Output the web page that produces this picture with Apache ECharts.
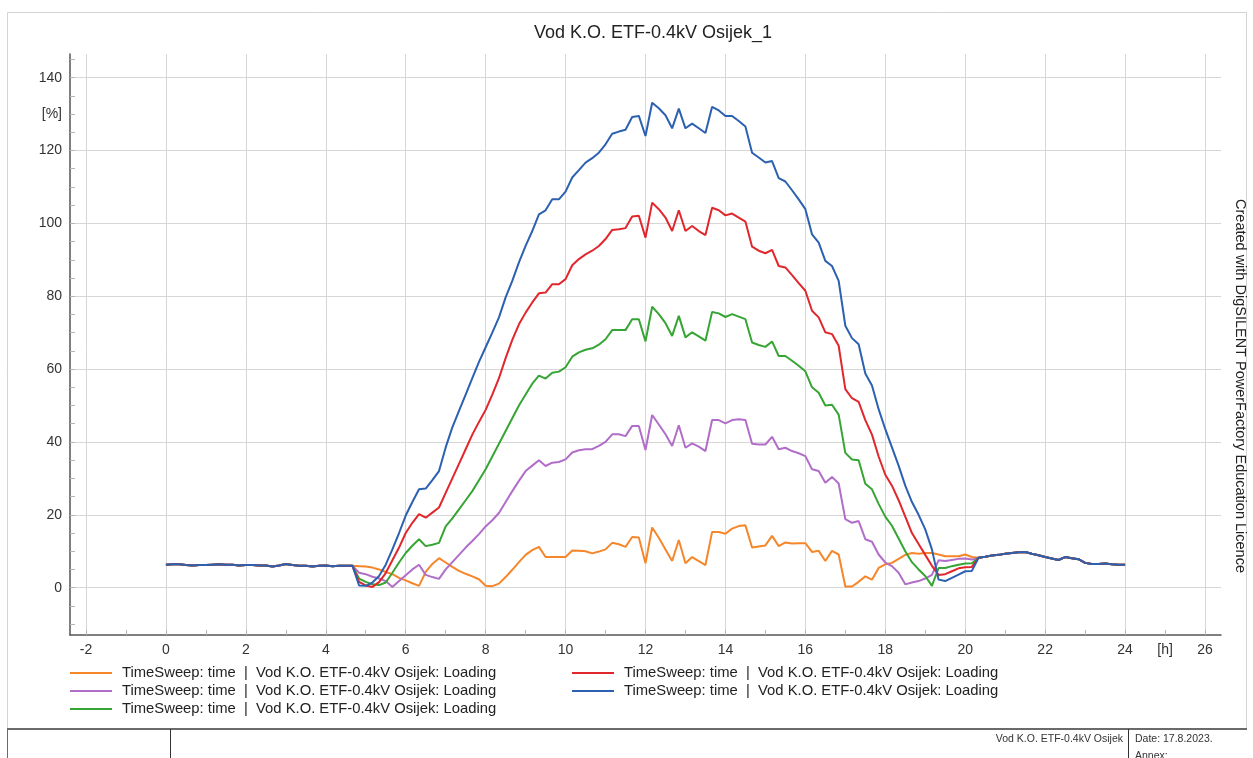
<!DOCTYPE html>
<html>
<head>
<meta charset="utf-8">
<title>Vod K.O. ETF-0.4kV Osijek_1</title>
<script src="https://cdn.jsdelivr.net/npm/echarts@6/dist/echarts.min.js"></script>
<style>
  html, body { margin: 0; padding: 0; background: #ffffff; }
  #chart { width: 1253px; height: 758px; }
</style>
</head>
<body>
<div id="chart"></div>
<script>
// Time sweep resolution: one sample every 10 minutes, 0 h .. 24 h
const SAMPLES_PER_HOUR = 6;

// Shared night-time loading [%] (all cases identical), 0:00 .. 4:40
const nightMorning = [
  6.3, 6.4, 6.4, 6.2, 6.1, 6.2,
  6.2, 6.3, 6.4, 6.3, 6.3, 6.1,
  6.2, 6.2, 6.1, 6.1, 5.8, 6.1,
  6.5, 6.2, 6.0, 6.0, 5.8, 6.0,
  6.1, 5.9, 6.0, 6.0, 6.0
];

// Shared evening loading [%], 20:20 .. 24:00
const nightEvening = [
  8.2, 8.5, 8.8,
  9.0, 9.3, 9.5, 9.7, 9.8, 9.3,
  8.9, 8.4, 8.0, 7.6, 8.4, 8.1,
  7.8, 6.8, 6.5, 6.5, 6.6, 6.4,
  6.3, 6.3
];

// Daytime loading [%] per case, 4:50 .. 20:10 (rows = whole hours)
const dayOrange = [
  5.9,
  5.8, 5.5, 5.0, 4.3, 3.7, 2.7,
  2.0, 1.2, 0.5, 4.3, 6.5, 8.1,
  6.9, 5.7, 4.6, 3.8, 3.1, 2.3,
  0.5, 0.4, 1.1, 2.9, 4.9, 7.0,
  9.0, 10.3, 11.2, 8.4, 8.4, 8.4,
  8.4, 10.2, 10.1, 10.0, 9.4, 9.9,
  10.5, 12.3, 11.9, 11.2, 13.9, 13.8,
  6.7, 16.5, 13.7, 10.5, 7.3, 13.1,
  6.7, 8.4, 7.3, 6.2, 15.3, 15.3,
  14.8, 16.2, 16.9, 17.1, 11.0, 11.3,
  11.6, 14.2, 11.4, 12.4, 12.1, 12.2,
  12.2, 9.8, 10.1, 7.3, 10.1, 9.1,
  0.3, 0.3, 1.6, 3.1, 2.2, 5.4,
  6.4, 6.8, 7.9, 9.0, 9.5, 9.3,
  9.5, 9.5, 9.1, 8.6, 8.6, 8.6,
  9.1, 8.4
];

const dayPurple = [
  4.1,
  3.7, 3.0, 2.5, 1.8, 0.2, 1.8,
  3.4, 5.0, 6.3, 3.5, 2.9, 2.4,
  5.0, 7.0, 9.0, 11.0, 12.8, 14.7,
  16.8, 18.5, 20.5, 23.5, 26.5, 29.3,
  32.0, 33.5, 35.0, 33.4, 34.3, 34.5,
  35.2, 37.1, 37.7, 38.0, 38.0, 38.9,
  40.0, 42.1, 42.1, 41.6, 44.4, 44.4,
  37.8, 47.4, 44.8, 42.1, 38.9, 44.6,
  38.4, 39.6, 38.7, 37.5, 46.0, 46.0,
  45.1, 46.0, 46.2, 46.0, 39.5, 39.3,
  39.3, 41.4, 38.0, 38.4, 37.5, 36.9,
  36.1, 32.5, 32.0, 28.8, 30.4, 28.6,
  18.8, 17.8, 18.3, 13.3, 12.6, 9.1,
  6.9, 5.9, 4.1, 0.9, 1.4, 1.8,
  2.5, 3.5, 7.5, 7.3, 7.6, 7.9,
  8.0, 7.7
];

const dayGreen = [
  2.5,
  1.6, 0.9, 0.7, 1.4, 4.1, 6.9,
  9.5, 11.5, 13.3, 11.4, 11.8, 12.3,
  16.8, 19.0, 21.5, 24.0, 26.5, 29.5,
  32.5, 36.0, 39.5, 43.0, 46.5, 50.0,
  53.0, 56.0, 58.2, 57.4, 59.0, 59.3,
  60.5, 63.4, 64.6, 65.3, 65.7, 66.7,
  68.2, 70.7, 70.7, 70.7, 73.7, 73.7,
  67.6, 77.1, 75.1, 72.6, 69.1, 74.6,
  68.7, 70.1, 69.0, 67.8, 75.7, 75.3,
  74.3, 75.1, 74.4, 73.7, 67.3, 66.6,
  66.1, 67.6, 63.6, 63.6, 62.3, 60.9,
  59.4, 55.0, 53.5, 50.0, 50.2, 47.5,
  37.0, 35.2, 35.0, 28.5, 27.0, 23.0,
  19.5, 17.0, 13.5, 10.0, 7.0, 5.0,
  3.2, 0.5, 5.4, 5.4, 5.9, 6.3,
  6.6, 6.7
];

const dayRed = [
  1.6,
  0.6, 0.2, 1.5, 4.0, 7.5, 11.0,
  15.0, 17.8, 20.2, 19.2, 20.6, 22.0,
  26.0, 30.0, 34.0, 38.0, 42.0, 45.5,
  48.8, 53.0, 57.5, 63.0, 68.0, 72.3,
  75.5, 78.3, 80.8, 81.0, 83.3, 83.3,
  84.7, 88.5, 90.2, 91.5, 92.5, 93.8,
  95.7, 98.2, 98.4, 98.7, 101.9, 102.1,
  96.1, 105.7, 103.9, 101.6, 97.9, 103.6,
  97.9, 99.3, 97.9, 96.8, 104.3, 103.6,
  102.2, 102.7, 101.6, 100.5, 93.6, 92.5,
  91.8, 92.7, 88.3, 87.9, 85.8, 83.6,
  81.5, 76.0, 74.2, 70.1, 69.6, 66.4,
  54.5, 52.0, 51.0, 46.0, 42.0, 36.0,
  31.0, 28.0, 24.0, 19.5, 15.0, 12.0,
  9.0, 6.0, 3.5, 3.7, 4.5, 5.3,
  5.6, 5.7
];

const dayBlue = [
  0.6,
  0.5, 1.4, 3.2, 6.3, 10.5, 15.0,
  19.8, 23.5, 27.0, 27.2, 29.5, 32.0,
  38.5, 44.0, 48.5, 53.0, 57.5, 62.0,
  66.0, 70.0, 74.2, 79.7, 84.2, 89.3,
  93.8, 97.9, 102.5, 103.6, 106.6, 106.6,
  108.7, 112.6, 114.6, 116.7, 117.9, 119.4,
  121.7, 124.6, 125.2, 125.7, 129.2, 129.5,
  124.0, 133.1, 131.6, 129.7, 126.1, 131.5,
  126.1, 127.4, 126.1, 124.8, 132.0, 131.0,
  129.5, 129.5, 128.1, 126.6, 119.4, 118.1,
  116.7, 117.1, 112.4, 111.5, 109.1, 106.6,
  103.9, 97.0, 94.7, 89.7, 88.3, 84.2,
  71.9, 68.5, 66.8, 58.8, 55.5, 49.0,
  43.5, 38.5, 33.5, 28.0, 23.5, 20.0,
  16.0, 10.5, 2.2, 1.8, 2.7, 3.6,
  4.5, 4.6
];

// Axis ticks and labels
const xTickValues = [-2, -1, 0, 1, 2, 3, 4, 5, 6, 7, 8, 9, 10, 11, 12, 13, 14, 15, 16, 17, 18, 19, 20, 21, 22, 23, 24, 25, 26];
const xLabelValues = [-2, 0, 2, 4, 6, 8, 10, 12, 14, 16, 18, 20, 22, 24, 25, 26];
const xGridValues = [-2, 0, 2, 4, 6, 8, 10, 12, 14, 16, 18, 20, 22, 24, 26];
const yTickValues = [-10, -5, 0, 5, 10, 15, 20, 25, 30, 35, 40, 45, 50, 55, 60, 65, 70, 75, 80, 85, 90, 95, 100, 105, 110, 115, 120, 125, 130, 135, 140, 145];
const yLabelValues = [0, 20, 40, 60, 80, 100, 120, 130, 140];
const yGridValues = [0, 20, 40, 60, 80, 100, 120, 140];
const xUnitAt = 25;
const yUnitAt = 130;

const legendText = 'TimeSweep: time  |  Vod K.O. ETF-0.4kV Osijek: Loading';
const chartTitle = 'Vod K.O. ETF-0.4kV Osijek_1';
const licenceText = 'Created with DigSILENT PowerFactory Education Licence';
const footerObject = 'Vod K.O. ETF-0.4kV Osijek';
const footerDate = 'Date: 17.8.2023.';
const footerAnnex = 'Annex:';

const cases = [
  { day: dayOrange, color: '#f5862a' },
  { day: dayPurple, color: '#b16ec9' },
  { day: dayGreen,  color: '#36a534' },
  { day: dayRed,    color: '#e1262c' },
  { day: dayBlue,   color: '#2c60b0' }
];

function buildSeriesData(day) {
  const values = nightMorning.concat(day, nightEvening);
  return values.map((v, i) => [i / SAMPLES_PER_HOUR, v]);
}

const FONT = '"Liberation Sans", Arial, sans-serif';
const chart = echarts.init(document.getElementById('chart'), null, { renderer: 'canvas' });

const legendRows = [
  { x: 70, y: 673, color: cases[0].color },
  { x: 70, y: 691, color: cases[1].color },
  { x: 70, y: 709, color: cases[2].color },
  { x: 572, y: 673, color: cases[3].color },
  { x: 572, y: 691, color: cases[4].color }
];

const graphics = [
  // outer frame
  { type: 'rect', silent: true, z: -10,
    shape: { x: 7.5, y: 12.5, width: 1239, height: 716 },
    style: { fill: null, stroke: '#d3d3d3', lineWidth: 1 } },
  // title
  { type: 'text', silent: true,
    style: { text: chartTitle, x: 653, y: 33, textAlign: 'center', textVerticalAlign: 'middle',
             font: '18px ' + FONT, fill: '#222' } },
  // licence note on the right
  { type: 'text', silent: true, x: 1240, y: 386, rotation: -Math.PI / 2,
    style: { text: licenceText, x: 0, y: 0, textAlign: 'center', textVerticalAlign: 'middle',
             font: '14.5px ' + FONT, fill: '#222' } },
  // footer table
  { type: 'line', silent: true, shape: { x1: 7, y1: 729, x2: 1247, y2: 729 },
    style: { stroke: '#6a6a6a', lineWidth: 2 } },
  { type: 'line', silent: true, shape: { x1: 7.5, y1: 729, x2: 7.5, y2: 758 },
    style: { stroke: '#6a6a6a', lineWidth: 1 } },
  { type: 'line', silent: true, shape: { x1: 170.5, y1: 729, x2: 170.5, y2: 758 },
    style: { stroke: '#333', lineWidth: 1 } },
  { type: 'line', silent: true, shape: { x1: 1128.5, y1: 729, x2: 1128.5, y2: 758 },
    style: { stroke: '#333', lineWidth: 1 } },
  { type: 'text', silent: true,
    style: { text: footerObject, x: 1123, y: 739, textAlign: 'right', textVerticalAlign: 'middle',
             font: '10.5px ' + FONT, fill: '#333' } },
  { type: 'text', silent: true,
    style: { text: footerDate, x: 1135, y: 739, textAlign: 'left', textVerticalAlign: 'middle',
             font: '10.5px ' + FONT, fill: '#333' } },
  { type: 'text', silent: true,
    style: { text: footerAnnex, x: 1135, y: 756, textAlign: 'left', textVerticalAlign: 'middle',
             font: '10.5px ' + FONT, fill: '#333' } }
];

legendRows.forEach(r => {
  graphics.push({ type: 'line', silent: true,
    shape: { x1: r.x, y1: r.y, x2: r.x + 42, y2: r.y },
    style: { stroke: r.color, lineWidth: 2 } });
  graphics.push({ type: 'text', silent: true,
    style: { text: legendText, x: r.x + 52, y: r.y, textAlign: 'left', textVerticalAlign: 'middle',
             font: '14.8px ' + FONT, fill: '#222' } });
});

const option = {
  animation: false,
  backgroundColor: '#ffffff',
  grid: { left: 70, right: 32, top: 54, bottom: 123, containLabel: false },
  xAxis: [
    {
      type: 'value', min: -2.4, max: 26.4, position: 'bottom',
      axisLine: { show: true, onZero: false, lineStyle: { color: '#555', width: 1.5 } },
      axisTick: { show: true, inside: true, length: 5, customValues: xTickValues,
                  lineStyle: { color: '#b5b5b5' } },
      axisLabel: { show: true, customValues: xLabelValues, margin: 8,
                   formatter: v => (v === xUnitAt ? '[h]' : String(v)),
                   fontSize: 14, fontFamily: FONT, color: '#333' },
      splitLine: { show: false }
    },
    {
      type: 'value', min: -2.4, max: 26.4, position: 'top',
      axisLine: { show: false, onZero: false },
      axisTick: { show: false, customValues: xGridValues },
      axisLabel: { show: false },
      splitLine: { show: true, lineStyle: { color: '#d6d6d6', width: 1 } }
    }
  ],
  yAxis: [
    {
      type: 'value', min: -13, max: 146.5, position: 'left',
      axisLine: { show: true, onZero: false, lineStyle: { color: '#555', width: 1.5 } },
      axisTick: { show: true, inside: true, length: 5, customValues: yTickValues,
                  lineStyle: { color: '#b5b5b5' } },
      axisLabel: { show: true, customValues: yLabelValues, margin: 8,
                   formatter: v => (v === yUnitAt ? '[%]' : String(v)),
                   fontSize: 14, fontFamily: FONT, color: '#333' },
      splitLine: { show: false }
    },
    {
      type: 'value', min: -13, max: 146.5, position: 'right',
      axisLine: { show: false, onZero: false },
      axisTick: { show: false, customValues: yGridValues },
      axisLabel: { show: false },
      splitLine: { show: true, lineStyle: { color: '#d6d6d6', width: 1 } }
    }
  ],
  series: cases.map(c => ({
    type: 'line',
    name: legendText,
    xAxisIndex: 0,
    yAxisIndex: 0,
    data: buildSeriesData(c.day),
    showSymbol: false,
    symbol: 'none',
    lineStyle: { color: c.color, width: 2 },
    itemStyle: { color: c.color },
    emphasis: { disabled: true }
  })),
  graphic: { elements: graphics }
};

chart.setOption(option);
</script>
</body>
</html>
